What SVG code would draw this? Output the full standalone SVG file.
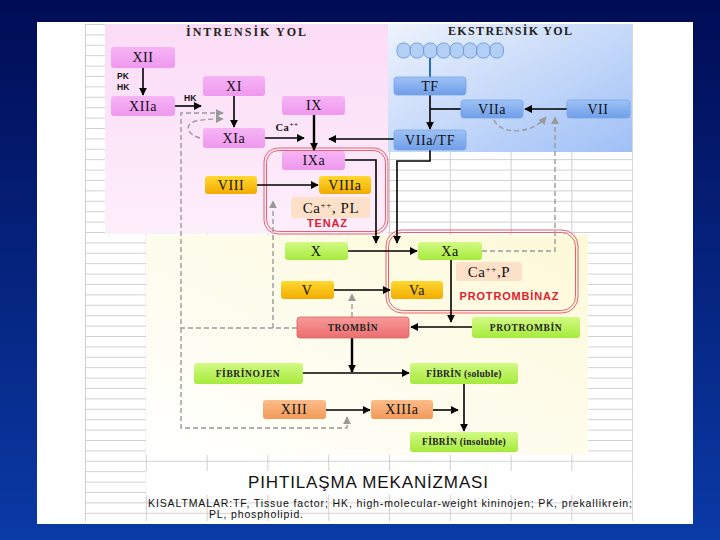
<svg xmlns="http://www.w3.org/2000/svg" width="720" height="540" viewBox="0 0 720 540">
<defs>
<linearGradient id="bg" x1="0" y1="0" x2="0" y2="1"><stop offset="0" stop-color="#000c55"/><stop offset="1" stop-color="#0a3aa6"/></linearGradient>
<linearGradient id="gBlueReg" x1="0" y1="0" x2="1" y2="1"><stop offset="0" stop-color="#eef3fd"/><stop offset="1" stop-color="#9fc0f6"/></linearGradient>
<linearGradient id="gPinkReg" x1="0" y1="0" x2="0" y2="1"><stop offset="0" stop-color="#fbdcf6"/><stop offset="1" stop-color="#fdeefb"/></linearGradient>
<linearGradient id="gYelReg" x1="1" y1="0" x2="0" y2="1"><stop offset="0" stop-color="#fdf9d8"/><stop offset="1" stop-color="#ffffff"/></linearGradient>
<linearGradient id="gPink" x1="0" y1="0" x2="0" y2="1"><stop offset="0" stop-color="#f7b4f5"/><stop offset="1" stop-color="#ee98ee"/></linearGradient>
<linearGradient id="gBlue" x1="0" y1="0" x2="0" y2="1"><stop offset="0" stop-color="#9ec2f6"/><stop offset="1" stop-color="#6f9ee8"/></linearGradient>
<linearGradient id="gYel" x1="0" y1="0" x2="0" y2="1"><stop offset="0" stop-color="#ffd830"/><stop offset="1" stop-color="#f2ac00"/></linearGradient>
<linearGradient id="gGreen" x1="0" y1="0" x2="0" y2="1"><stop offset="0" stop-color="#d2fa84"/><stop offset="1" stop-color="#a6ea3c"/></linearGradient>
<linearGradient id="gOr" x1="0" y1="0" x2="0" y2="1"><stop offset="0" stop-color="#fbbc88"/><stop offset="1" stop-color="#f39a5a"/></linearGradient>
<linearGradient id="gRed" x1="0" y1="0" x2="0" y2="1"><stop offset="0" stop-color="#f89a9a"/><stop offset="1" stop-color="#ec6e6e"/></linearGradient>
<pattern id="grid" patternUnits="userSpaceOnUse" x="85" y="24" width="60.8" height="10.4">
<path d="M0 0.5H60.8M0.5 0V10.4" stroke="#cfcfcf" stroke-width="1" fill="none"/>
</pattern>
<marker id="ah" viewBox="0 0 10 10" refX="9" refY="5" markerWidth="8" markerHeight="8" markerUnits="userSpaceOnUse" orient="auto"><path d="M0 0L10 5L0 10z" fill="#000"/></marker>
<marker id="ahg" viewBox="0 0 10 10" refX="9" refY="5" markerWidth="8" markerHeight="8" markerUnits="userSpaceOnUse" orient="auto"><path d="M0 0L10 5L0 10z" fill="#999"/></marker>
</defs>
<style>
.t{font-family:"Liberation Serif","Times New Roman",serif;font-size:14px;fill:#111;text-anchor:middle;letter-spacing:0.6px}
.tb{font-family:"Liberation Serif","Times New Roman",serif;font-size:9.5px;font-weight:bold;fill:#222;text-anchor:middle;letter-spacing:0.6px}
.hd{font-family:"Liberation Serif","Times New Roman",serif;font-size:12px;font-weight:bold;fill:#222;text-anchor:middle}
.lab{font-family:"Liberation Sans",Arial,sans-serif;font-size:8.5px;font-weight:bold;fill:#111}
.red{font-family:"Liberation Sans",Arial,sans-serif;font-size:11px;font-weight:bold;fill:#e0202e;text-anchor:middle}
.pink{fill:url(#gPink)}
.blue{fill:url(#gBlue);stroke:#7aa4e6;stroke-width:0.8}
.yel{fill:url(#gYel)}
.green{fill:url(#gGreen)}
.or{fill:url(#gOr)}
.peach{fill:#fde0c8}
.c{fill:none;stroke:#000;stroke-width:1.6}
.ck{fill:none;stroke:#000;stroke-width:2.4}
.d{fill:none;stroke:#999;stroke-width:1.4;stroke-dasharray:5 3}
.cx{fill:none;stroke:#e86070;stroke-width:1}
.sans{font-family:"Liberation Sans",Arial,sans-serif;fill:#111}
</style>
<rect x="0" y="0" width="720" height="540" fill="url(#bg)"/>
<rect x="37" y="22" width="656" height="502" fill="#fff"/>
<rect x="85" y="24" width="548" height="497" fill="url(#grid)"/>
<rect x="146" y="471" width="486" height="24" fill="#fff"/>
<rect x="105" y="24" width="283" height="210" fill="url(#gPinkReg)"/>
<rect x="388" y="24" width="244" height="128" fill="url(#gBlueReg)"/>
<rect x="146" y="235" width="442" height="220" fill="url(#gYelReg)"/>
<text class="hd" x="246" y="36" textLength="120" lengthAdjust="spacing">İNTRENSİK YOL</text>
<text class="hd" x="510" y="35" textLength="124" lengthAdjust="spacing">EKSTRENSİK  YOL</text>
<g id="membrane" fill="#b4cff4" stroke="#6a98dc" stroke-width="0.9">
<rect x="397" y="43" width="13.3" height="15" rx="6"/><rect x="410.3" y="43" width="13.3" height="15" rx="6"/><rect x="423.6" y="43" width="13.3" height="15" rx="6"/><rect x="436.9" y="43" width="13.3" height="15" rx="6"/><rect x="450.2" y="43" width="13.3" height="15" rx="6"/><rect x="463.5" y="43" width="13.3" height="15" rx="6"/><rect x="476.8" y="43" width="13.3" height="15" rx="6"/><rect x="490.1" y="43" width="13.3" height="15" rx="6"/>
</g>
<g id="tenaz"><rect class="cx" x="264" y="148" width="124" height="86" rx="14"/><rect class="cx" x="266.5" y="150.5" width="119" height="81" rx="12"/><text class="red" x="327" y="227" textLength="40" lengthAdjust="spacing">TENAZ</text></g>
<g id="protrombinaz"><rect class="cx" x="386" y="230" width="192" height="83" rx="16"/><rect class="cx" x="388.5" y="232.5" width="187" height="78" rx="14"/><text class="red" x="509" y="300" textLength="99" lengthAdjust="spacing">PROTROMBİNAZ</text></g>
<g id="connectors">
<path class="c" d="M143 68V95" marker-end="url(#ah)"/>
<path class="c" d="M175 106H201" marker-end="url(#ah)"/>
<path class="c" d="M234 96V127" marker-end="url(#ah)"/>
<path class="c" d="M265 138H304" marker-end="url(#ah)"/>
<path class="ck" d="M314 115V150" marker-end="url(#ah)"/>
<path class="c" d="M394 139H329" marker-end="url(#ah)"/>
<path style="stroke:#2a6cc0;stroke-width:2;fill:none" d="M430 58V77"/>
<path class="c" d="M430 95V129" marker-end="url(#ah)"/>
<path class="c" d="M430 109H461"/>
<path class="c" d="M567 109H525" marker-end="url(#ah)"/>
<path class="c" d="M345 160H376V243" marker-end="url(#ah)"/>
<path class="c" d="M430 150V161H397V243" marker-end="url(#ah)"/>
<path class="c" d="M257 185H318" marker-end="url(#ah)"/>
<path class="c" d="M348 251H417" marker-end="url(#ah)"/>
<path class="c" d="M334 290H390" marker-end="url(#ah)"/>
<path class="c" d="M451 260V322" marker-end="url(#ah)"/>
<path class="c" d="M472 327H411" marker-end="url(#ah)"/>
<path class="ck" d="M352 338V372" marker-end="url(#ah)"/>
<path class="c" d="M303 373H409" marker-end="url(#ah)"/>
<path class="c" d="M464 384V431" marker-end="url(#ah)"/>
<path class="c" d="M326 410H370" marker-end="url(#ah)"/>
<path class="c" d="M433 410H458" marker-end="url(#ah)"/>
<path class="d" d="M297 328H181V113H223" marker-end="url(#ahg)"/>
<path class="d" d="M181 328V428H347V417" marker-end="url(#ahg)"/>
<path class="d" d="M273 328V201" marker-end="url(#ahg)"/>
<path class="d" d="M352 317V294" marker-end="url(#ahg)"/>
<path class="d" d="M482 251H555V117" marker-end="url(#ahg)"/>
<path class="d" d="M200 138C186 134 184 124 196 121C206 119 214 119 223 119" marker-end="url(#ahg)"/>
<path class="d" d="M494 120C500 134 530 136 546 117" marker-end="url(#ahg)"/>
</g>
<text class="lab" x="117" y="79">PK</text>
<text class="lab" x="117" y="90">HK</text>
<text class="lab" x="184" y="101">HK</text>
<text class="t" x="287" y="131" style="font-size:10.5px;font-weight:bold">Ca<tspan dy="-4" font-size="7">++</tspan></text>
<g id="XII"><rect class="pink" x="111" y="47" width="64" height="21" rx="3"/><text class="t" x="143" y="62">XII</text></g>
<g id="XIIa"><rect class="pink" x="111" y="96" width="64" height="20" rx="3"/><text class="t" x="143" y="111">XIIa</text></g>
<g id="XI"><rect class="pink" x="203" y="76" width="62" height="20" rx="3"/><text class="t" x="234" y="91">XI</text></g>
<g id="IX"><rect class="pink" x="282" y="96" width="63" height="19" rx="3"/><text class="t" x="314" y="110">IX</text></g>
<g id="XIa"><rect class="pink" x="203" y="128" width="62" height="20" rx="3"/><text class="t" x="234" y="143">XIa</text></g>
<g id="IXa"><rect class="pink" x="282" y="151" width="63" height="19" rx="3"/><text class="t" x="314" y="165">IXa</text></g>
<g id="VIII"><rect class="yel" x="205" y="176" width="52" height="18" rx="3"/><text class="t" x="231" y="190">VIII</text></g>
<g id="VIIIa"><rect class="yel" x="319" y="176" width="52" height="18" rx="3"/><text class="t" x="345" y="190">VIIIa</text></g>
<g id="CaPL"><rect class="peach" x="291" y="197" width="79" height="21" rx="3"/><text class="t" x="331" y="213" style="font-size:15px">Ca<tspan dy="-5" font-size="9">++</tspan><tspan dy="5">, PL</tspan></text></g>
<g id="TF"><rect class="blue" x="394" y="77" width="72" height="18" rx="3"/><text class="t" x="430" y="91">TF</text></g>
<g id="VIIa"><rect class="blue" x="461" y="100" width="62" height="18" rx="3"/><text class="t" x="492" y="114">VIIa</text></g>
<g id="VII"><rect class="blue" x="567" y="100" width="63" height="18" rx="3"/><text class="t" x="598" y="114">VII</text></g>
<g id="VIIaTF"><rect class="blue" x="394" y="130" width="72" height="20" rx="3"/><text class="t" x="430" y="145">VIIa/TF</text></g>
<g id="X"><rect class="green" x="285" y="242" width="63" height="18" rx="3"/><text class="t" x="316" y="256">X</text></g>
<g id="Xa"><rect class="green" x="418" y="242" width="64" height="18" rx="3"/><text class="t" x="450" y="256">Xa</text></g>
<g id="CaP"><rect class="peach" x="456" y="262" width="66" height="19" rx="3"/><text class="t" x="489" y="277" style="font-size:15px">Ca<tspan dy="-5" font-size="9">++</tspan><tspan dy="5">,P</tspan></text></g>
<g id="V"><rect class="yel" x="281" y="281" width="53" height="18" rx="3"/><text class="t" x="307" y="295">V</text></g>
<g id="Va"><rect class="yel" x="391" y="281" width="52" height="18" rx="3"/><text class="t" x="417" y="295">Va</text></g>
<g id="TROMBIN"><rect fill="url(#gRed)" stroke="#d86060" stroke-width="0.8" x="297" y="317" width="112" height="21" rx="3"/><text class="tb" x="353" y="331">TROMBİN</text></g>
<g id="PROTROMBIN"><rect class="green" x="472" y="317" width="108" height="21" rx="3"/><text class="tb" x="526" y="331">PROTROMBİN</text></g>
<g id="FIBRINOJEN"><rect class="green" x="194" y="363" width="109" height="21" rx="3"/><text class="tb" x="248" y="377">FİBRİNOJEN</text></g>
<g id="FIBRINsol"><rect class="green" x="410" y="363" width="108" height="21" rx="3"/><text class="tb" x="464" y="377" style="letter-spacing:0.3px">FİBRİN (soluble)</text></g>
<g id="XIII"><rect class="or" x="263" y="400" width="63" height="19" rx="3"/><text class="t" x="294" y="414">XIII</text></g>
<g id="XIIIa"><rect class="or" x="371" y="400" width="62" height="19" rx="3"/><text class="t" x="402" y="414">XIIIa</text></g>
<g id="FIBRINins"><rect class="green" x="410" y="432" width="108" height="20" rx="3"/><text class="tb" x="464" y="445" style="letter-spacing:0.3px">FİBRİN (insoluble)</text></g>
<text class="sans" x="248" y="488" style="font-size:17px" textLength="240" lengthAdjust="spacing">PIHTILAŞMA MEKANİZMASI</text>
<text class="sans" x="148" y="507" style="font-size:10.5px" textLength="484" lengthAdjust="spacing">KISALTMALAR:TF, Tissue factor; HK, high-molecular-weight kininojen; PK, prekallikrein;</text>
<text class="sans" x="209" y="518" style="font-size:10.5px" textLength="94" lengthAdjust="spacing">PL, phospholipid.</text>
</svg>
